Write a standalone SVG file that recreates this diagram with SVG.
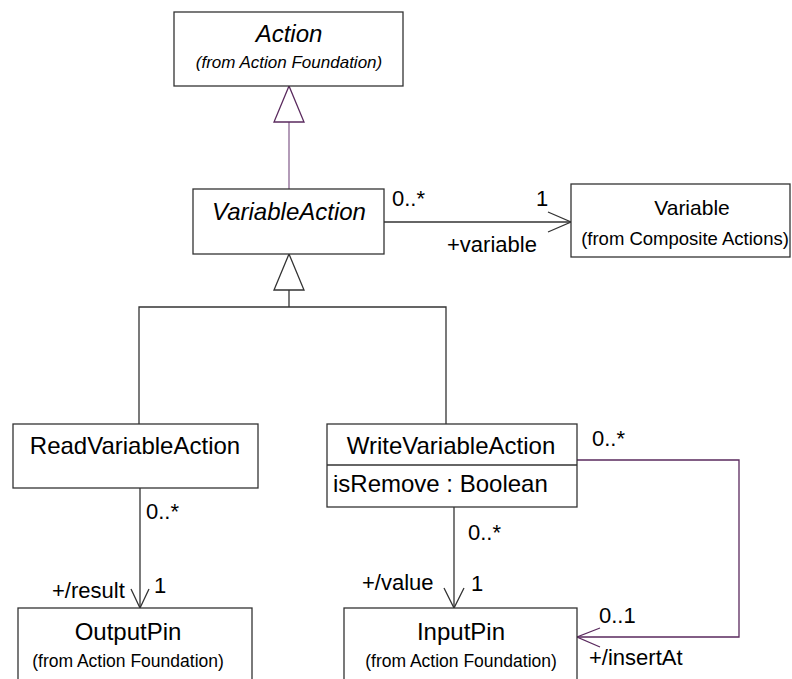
<svg xmlns="http://www.w3.org/2000/svg" width="792" height="679" viewBox="0 0 792 679">
<style>
.box{fill:#fff;stroke:#333;stroke-width:1.3}
.t{font-family:"Liberation Sans",Arial,sans-serif;fill:#000}
.name{font-size:24px}
.sub{font-size:17px}
.pin{font-size:17.5px}
.lbl{font-size:22px}
.ln{fill:none;stroke:#333;stroke-width:1.3}
.pl{fill:none;stroke:#5a2a5e;stroke-width:1.3}
</style>
<rect width="792" height="679" fill="#fff"/>
<g id="connectors">
  <line x1="289" y1="122" x2="289" y2="189" stroke="#9a7aa0" stroke-width="1.5"/>
  <polygon points="289,86 274,122 304,122" fill="#fff" stroke="#5a2a5e" stroke-width="1.3"/>
  <polyline class="ln" points="139,424 139,307 446,307 446,424"/>
  <line class="ln" x1="289" y1="290" x2="289" y2="307"/>
  <polygon points="289,254 274,290 304,290" fill="#fff" stroke="#333" stroke-width="1.3"/>
  <line class="ln" x1="384" y1="222" x2="571" y2="222"/>
  <polyline class="ln" points="548,212 571,222 548,232"/>
  <text class="t lbl" x="392" y="206">0..*</text>
  <text class="t lbl" x="536" y="206">1</text>
  <text class="t lbl" x="447" y="252">+variable</text>
  <line class="ln" x1="140" y1="488" x2="140" y2="608"/>
  <polyline class="ln" points="131,589 140,608 149,589"/>
  <text class="t lbl" x="146" y="519">0..*</text>
  <text class="t lbl" x="52" y="598">+/result</text>
  <text class="t lbl" x="154" y="593">1</text>
  <line class="ln" x1="454" y1="507" x2="454" y2="608"/>
  <polyline class="ln" points="444,588 454,608 464,588"/>
  <text class="t lbl" x="468" y="540">0..*</text>
  <text class="t lbl" x="362" y="590">+/value</text>
  <text class="t lbl" x="471" y="591">1</text>
  <polyline class="pl" points="577,460 739,460 739,637 577,637"/>
  <polyline class="pl" points="600,628 577,637 600,647"/>
  <text class="t lbl" x="592" y="446">0..*</text>
  <text class="t lbl" x="599" y="623">0..1</text>
  <text class="t lbl" x="589" y="665">+/insertAt</text>
</g>
<g id="Action">
  <rect class="box" x="174" y="12" width="229" height="74"/>
  <text class="t name" x="289" y="42" text-anchor="middle" font-style="italic">Action</text>
  <text class="t sub" x="289" y="68" text-anchor="middle" font-style="italic">(from Action Foundation)</text>
</g>
<g id="VariableAction">
  <rect class="box" x="193" y="189" width="191" height="65"/>
  <text class="t name" x="289" y="220" text-anchor="middle" font-style="italic">VariableAction</text>
</g>
<g id="Variable">
  <rect class="box" x="571" y="184" width="219" height="73"/>
  <text class="t" font-size="21" x="692" y="215" text-anchor="middle">Variable</text>
  <text class="t" x="685" y="245" text-anchor="middle" font-size="18.5">(from Composite Actions)</text>
</g>
<g id="ReadVariableAction">
  <rect class="box" x="13" y="424" width="245" height="64"/>
  <text class="t name" x="135" y="454" text-anchor="middle">ReadVariableAction</text>
</g>
<g id="WriteVariableAction">
  <rect class="box" x="327" y="424" width="250" height="83"/>
  <line class="ln" x1="327" y1="465" x2="577" y2="465"/>
  <text class="t name" x="451" y="454" text-anchor="middle">WriteVariableAction</text>
  <text class="t name" x="333" y="492">isRemove : Boolean</text>
</g>
<g id="OutputPin">
  <rect class="box" x="18" y="608" width="234" height="80"/>
  <text class="t name" x="128" y="640" text-anchor="middle">OutputPin</text>
  <text class="t pin" x="128" y="667" text-anchor="middle">(from Action Foundation)</text>
</g>
<g id="InputPin">
  <rect class="box" x="344" y="608" width="233" height="80"/>
  <text class="t name" x="461" y="640" text-anchor="middle">InputPin</text>
  <text class="t pin" x="461" y="667" text-anchor="middle">(from Action Foundation)</text>
</g>
</svg>
